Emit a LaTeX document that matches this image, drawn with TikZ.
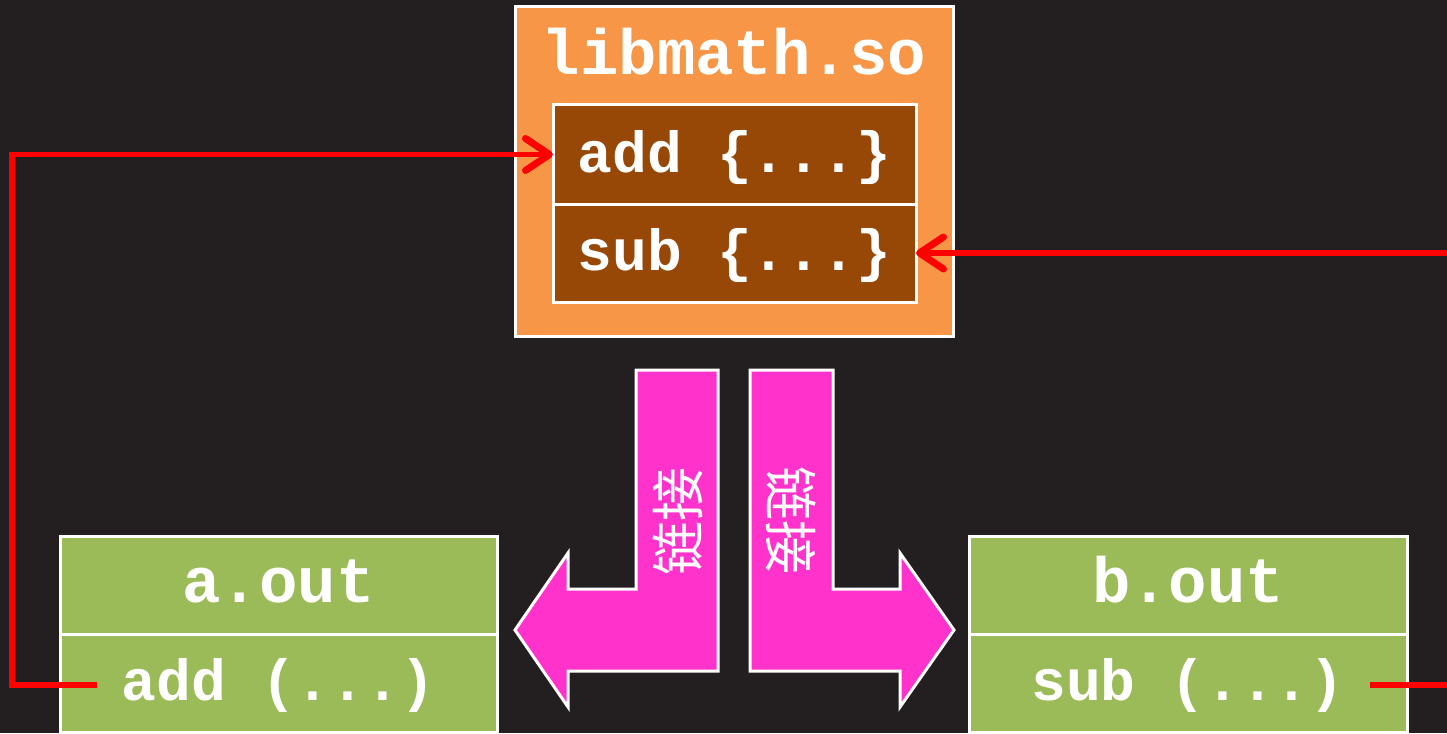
\documentclass[tikz,border=0pt]{standalone}
\usepackage{fontspec}
\setmonofont{Liberation Mono}
\newfontfamily\cjk{Noto Sans CJK SC}
\usetikzlibrary{arrows.meta, positioning}
\definecolor{bgdark}{RGB}{35,31,32}
\definecolor{liborange}{HTML}{F79646}
\definecolor{libbrown}{HTML}{974806}
\definecolor{outgreen}{HTML}{9BBB59}
\definecolor{linkpink}{HTML}{FF33CC}
\tikzset{
  file box/.style={
    draw=white,
    line width=3pt,
    inner sep=0pt,
    outer sep=0pt
  },
  file title/.style={
    text=white,
    font=\fontsize{64}{66}\selectfont\ttfamily\bfseries
  },
  func row/.style={
    draw=white,
    line width=3pt,
    inner sep=0pt,
    outer sep=0pt,
    text=white,
    font=\fontsize{58}{60}\selectfont\ttfamily\bfseries,
    text height=40pt,
    text depth=5pt
  },
  head row/.style={
    func row,
    font=\fontsize{64}{66}\selectfont\ttfamily\bfseries
  },
  link arrow/.style={
    fill=linkpink,
    draw=white,
    line width=3pt
  },
  link label/.style={
    text=white,
    font=\fontsize{54}{56}\selectfont\cjk
  },
  call link/.style={
    -{Straight Barb[length=24pt, width=32pt, round, line width=7pt]},
    line width=5.5pt,
    color=red
  },
  call line/.style={
    line width=5.5pt,
    color=red
  }
}

\begin{document}
\begin{tikzpicture}[x=1pt, y=-1pt]

    % 背景
    \fill[bgdark] (0,0) rectangle (1447,733);
    \useasboundingbox (0,0) rectangle (1447,733);
    \clip (0,0) rectangle (1447,733);

    % 共享库
    \node[file box, fill=liborange, minimum width=438pt, minimum height=329pt] (libmath) at (734,171.5) {};
    \node[file title, anchor=base] (libtitle) at (734,75) {libmath.so};
    \node[func row, fill=libbrown, minimum width=363pt, minimum height=99pt] (libadd) at (734.5,154.5) {add \{...\}};
    \node[func row, fill=libbrown, minimum width=363pt, minimum height=98pt, below=0pt of libadd] (libsub) {sub \{...\}};

    % 可执行文件
    \node[head row, fill=outgreen, minimum width=437pt, minimum height=98pt] (aout) at (278.5,585) {a.out};
    \node[func row, fill=outgreen, minimum width=437pt, minimum height=98pt, below=0pt of aout] (aoutadd) {add (...)};
    \node[head row, fill=outgreen, minimum width=438pt, minimum height=98pt] (bout) at (1188,585) {b.out};
    \node[func row, fill=outgreen, minimum width=438pt, minimum height=98pt, below=0pt of bout] (boutsub) {sub (...)};

    % 链接箭头 (折线)
    \draw[link arrow] (636,370) -- (718,370) -- (718,671) -- (568,671) -- (568,707)
      -- (515,630) -- (568,553) -- (568,589) -- (636,589) -- cycle;
    \draw[link arrow] (750,370) -- (833,370) -- (833,589) -- (900,589) -- (900,553)
      -- (954,630) -- (900,707) -- (900,671) -- (750,671) -- cycle;
    \node[link label, rotate=90] (linkleft) at (678,521) {链接};
    \node[link label, rotate=-90] (linkright) at (791,520) {链接};

    % 调用关系
    \coordinate (addcall) at (97,685);
    \coordinate (leftbend) at (12,685);
    \draw[call link] (addcall) -- (leftbend) |- (libadd.west);

    \coordinate (subcall) at (1370,685);
    \coordinate (rightexit) at (1452,685);
    \draw[call line] (subcall) -- (rightexit);
    \coordinate (rightentry) at (1452,253);
    \draw[call link] (rightentry) -- (libsub.east);

\end{tikzpicture}
\end{document}
